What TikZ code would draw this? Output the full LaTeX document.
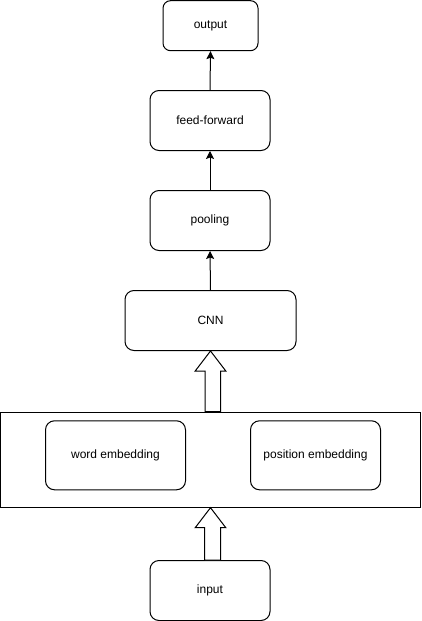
\documentclass[tikz,border=0pt]{standalone}
\usepackage{fontspec}
\setmainfont{Liberation Sans}
\usetikzlibrary{arrows.meta}
\begin{document}
\begin{tikzpicture}[x=1pt,y=-1pt,
  box/.style={draw=black,line width=1pt,rounded corners=9pt,font=\fontsize{12}{14}\selectfont},
  conn/.style={draw=black,line width=1pt,-{Stealth[length=8pt,width=8pt,inset=1.5pt]}},
  fat/.style={draw=black,line width=1pt,fill=white,line join=miter}]
\useasboundingbox (0,0) rectangle (421,621);
\node[box,rounded corners=7.5pt,minimum width=95pt,minimum height=50pt] (out) at (210.5,25.7) {output};
\node[box,minimum width=120pt,minimum height=60pt] (ff) at (210,120.5) {feed-forward};
\node[box,minimum width=120pt,minimum height=60pt] (pool) at (210,220.5) {pooling};
\node[box,minimum width=171pt,minimum height=60pt] (cnn) at (210.5,320.5) {CNN};
\node[draw=black,line width=1pt,minimum width=420pt,minimum height=95pt] (emb) at (210.5,459.7) {};
\node[box,minimum width=140pt,minimum height=69pt] (word) at (115.5,455.3) {word embedding};
\node[box,minimum width=130pt,minimum height=69pt] (pos) at (315.5,455.3) {position embedding};
\node[box,minimum width=120pt,minimum height=60pt] (in) at (210,590.5) {input};
\draw[conn] (ff.north) -- (out.south);
\draw[conn] (pool.north) -- (ff.south);
\draw[conn] (cnn.north) -- (pool.south);
\draw[fat] (cnn.south) -- ++(15.3,20) -- ++(-5.3,0) |- (emb.north) -| ++(-5.3,0) -- ++(0,0) |- ([xshift=-15.3pt,yshift=-20pt]cnn.south) -- cycle;
\draw[fat] (emb.south) -- ++(15.3,20) -- ++(-5.3,0) |- (in.north) -| ++(-5.3,0) -- ++(0,0) |- ([xshift=-15.3pt,yshift=-20pt]emb.south) -- cycle;
\end{tikzpicture}
\end{document}
